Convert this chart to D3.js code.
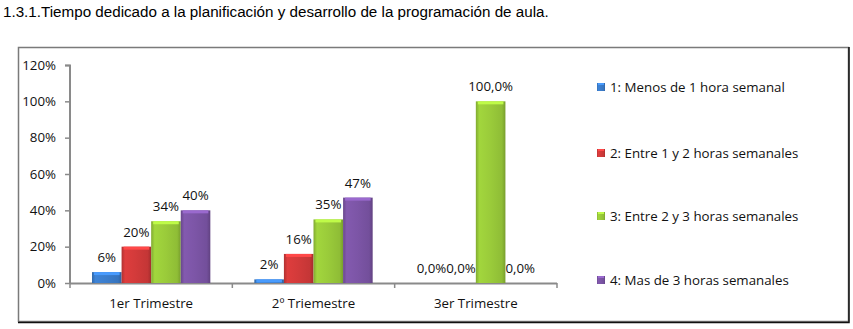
<!DOCTYPE html>
<html><head><meta charset="utf-8">
<script src="https://cdn.jsdelivr.net/npm/d3@7"></script>
<style>
body{margin:0;background:#fff;}
svg{display:block;}
</style></head>
<body>
<svg id="c" width="853" height="329"></svg>
<script>
const title = "1.3.1.Tiempo dedicado a la planificación y desarrollo de la programación de aula.";
const categories = ["1er Trimestre", "2º Triemestre", "3er Trimestre"];
const seriesNames = ["1: Menos de 1 hora semanal", "2: Entre 1 y 2 horas semanales", "3: Entre 2 y 3 horas semanales", "4: Mas de 3 horas semanales"];
const s1 = [6, 2, 0];
const s2 = [20, 16, 0];
const s3 = [34, 35, 100];
const s4 = [40, 47, 0];
const labels1 = ["6%", "2%", "0,0%"];
const labels2 = ["20%", "16%", "0,0%"];
const labels3 = ["34%", "35%", "100,0%"];
const labels4 = ["40%", "47%", "0,0%"];
const yTicks = [0, 20, 40, 60, 80, 100, 120];
const colors = ["#3b7dcc", "#d23a3a", "#9acb3a", "#7c55a6"];

const series = [s1, s2, s3, s4];
const seriesLabels = [labels1, labels2, labels3, labels4];

const svg = d3.select("#c");
const font = "'Open Sans', sans-serif";
const fs = 13.3;

svg.append("text").attr("x", 3).attr("y", 17)
  .attr("font-family", "'Liberation Sans', Arial, sans-serif").attr("font-size", 15.2)
  .attr("fill", "#000").text(title);

// frame
svg.append("rect").attr("x", 18.5).attr("y", 47.5).attr("width", 830).attr("height", 274)
  .attr("fill", "#fff").attr("stroke", "#7a7a7a").attr("stroke-width", 1.5);
svg.append("path").attr("d", "M849,47 V322.5 H18")
  .attr("fill", "none").attr("stroke", "#111").attr("stroke-width", 1.5);

const defs = svg.append("defs");
colors.forEach((c, i) => {
  const base = d3.color(c);
  const g = defs.append("linearGradient").attr("id", "g" + i)
    .attr("x1", 0).attr("x2", 1).attr("y1", 0).attr("y2", 0);
  g.append("stop").attr("offset", "0%").attr("stop-color", base.darker(0.5));
  g.append("stop").attr("offset", "12%").attr("stop-color", base.brighter(0.15));
  g.append("stop").attr("offset", "50%").attr("stop-color", base);
  g.append("stop").attr("offset", "88%").attr("stop-color", base.darker(0.2));
  g.append("stop").attr("offset", "100%").attr("stop-color", base.darker(0.7));
});

const x0 = d3.scaleBand().domain(categories).range([70, 557]).paddingInner(0).paddingOuter(0);
const x1 = d3.scaleBand().domain(d3.range(4)).range([22, x0.bandwidth() - 22]).padding(0);
const y = d3.scaleLinear().domain([0, 120]).range([283, 65]);

// axes
const yAxis = d3.axisLeft(y).tickValues(yTicks).tickFormat(d => d + "%").tickSize(5).tickPadding(9);
const gy = svg.append("g").attr("transform", "translate(70,0)").call(yAxis);
gy.select(".domain").attr("stroke", "#8a8a8a").attr("stroke-width", 2).attr("d", "M-5,65.5H0V283");
gy.selectAll(".tick line").attr("stroke", "#8a8a8a").attr("stroke-width", 1.5);
gy.selectAll(".tick text").attr("font-family", font).attr("font-size", fs).attr("fill", "#111");

const gx = svg.append("g").attr("transform", "translate(0,283)");
gx.append("line").attr("x1", 70).attr("x2", 557).attr("y1", 0.5).attr("y2", 0.5)
  .attr("stroke", "#8a8a8a").attr("stroke-width", 2);
const bounds = categories.map(c => x0(c)).concat([x0(categories[2]) + x0.bandwidth()]);
gx.selectAll(".bt").data(bounds).enter().append("line")
  .attr("x1", d => d).attr("x2", d => d).attr("y1", 0).attr("y2", 5)
  .attr("stroke", "#8a8a8a").attr("stroke-width", 1.5);
gx.selectAll(".cl").data(categories).enter().append("text")
  .attr("x", d => x0(d) + x0.bandwidth() / 2).attr("y", 25)
  .attr("text-anchor", "middle").attr("font-family", font).attr("font-size", fs).attr("fill", "#111")
  .text(d => d);

// bars
categories.forEach((cat, ci) => {
  series.forEach((s, si) => {
    const v = s[ci];
    const bx = x0(cat) + x1(si);
    const bw = x1.bandwidth();
    const by = y(v);
    const bh = y(0) - by;
    if (bh > 0) {
      svg.append("rect").attr("x", bx).attr("y", by).attr("width", bw).attr("height", bh)
        .attr("fill", `url(#g${si})`);
      svg.append("rect").attr("x", bx + 2).attr("y", by).attr("width", bw - 4).attr("height", Math.min(3, bh))
        .attr("fill", d3.color(colors[si]).brighter(0.6));
    }
    svg.append("text").attr("x", bx + bw / 2).attr("y", by - 10)
      .attr("text-anchor", "middle").attr("font-family", font).attr("font-size", fs).attr("fill", "#111")
      .text(seriesLabels[si][ci]);
  });
});

// legend
const legY = [87, 153, 216, 280];
seriesNames.forEach((n, i) => {
  const g = svg.append("g").attr("transform", `translate(597,${legY[i]})`);
  g.append("rect").attr("x", 0).attr("y", -4).attr("width", 8).attr("height", 8).attr("fill", `url(#g${i})`);
  g.append("rect").attr("x", 1).attr("y", -4).attr("width", 6).attr("height", 2).attr("fill", d3.color(colors[i]).brighter(0.6));
  g.append("text").attr("x", 13).attr("y", 5).attr("font-family", font).attr("font-size", fs).attr("fill", "#111").text(n);
});
</script>
</body></html>
